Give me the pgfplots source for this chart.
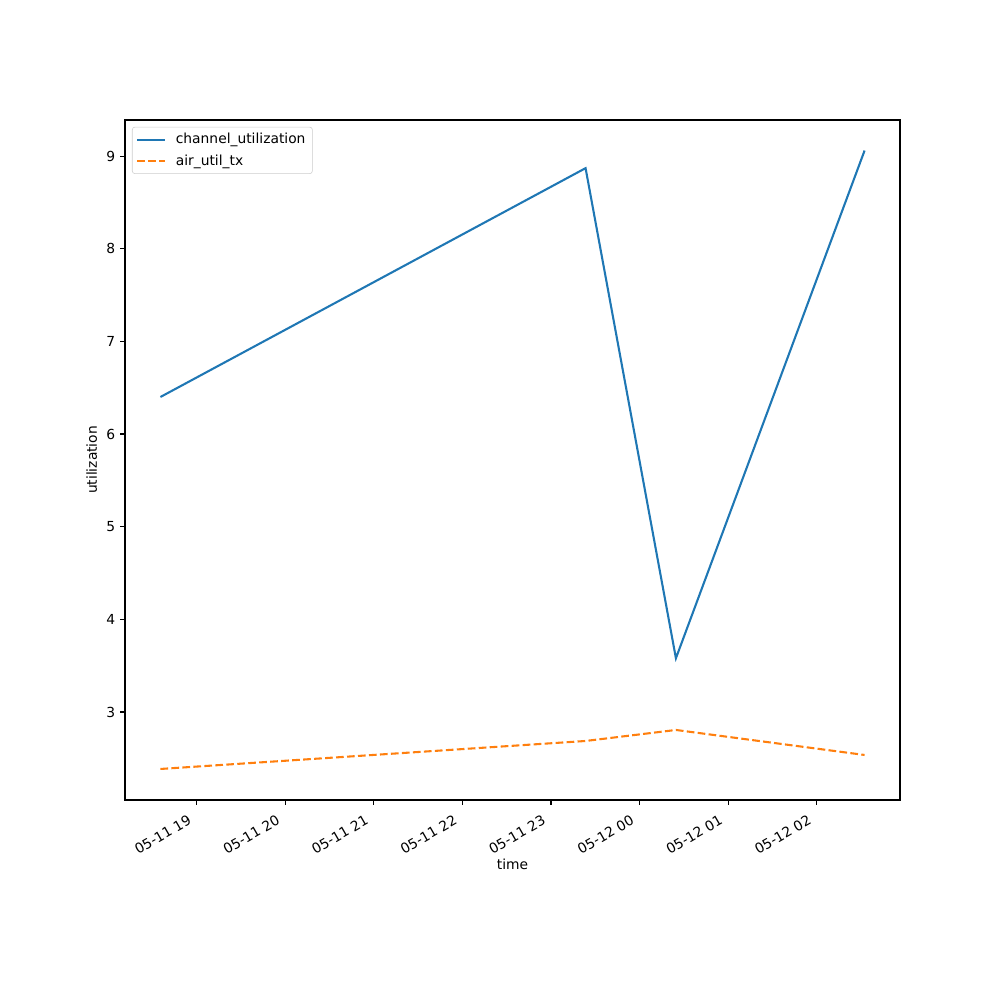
\documentclass[border=0pt]{standalone}
\usepackage{pgfplots}
\pgfplotsset{compat=1.18}
\usepackage{fontspec}
\setmainfont{DejaVu Sans}
\definecolor{c0}{HTML}{1F77B4}
\definecolor{c1}{HTML}{FF7F0E}
\begin{document}
\begin{tikzpicture}
\path[use as bounding box] (0,0) rectangle (10in,10in);
\begin{axis}[
  at={(1.25in,2.0in)}, anchor=south west,
  scale only axis, width=7.75in, height=6.8in,
  xmin=18.19, xmax=26.94, ymin=2.05, ymax=9.39,
  xtick={19,20,21,22,23,24,25,26},
  xticklabels={05-11 19,05-11 20,05-11 21,05-11 22,05-11 23,05-12 00,05-12 01,05-12 02},
  ytick={3,4,5,6,7,8,9},
  tick align=outside, major tick length=3.5pt, tick pos=left,
  tick style={black, line width=0.8pt},
  axis line style={line width=0.8pt},
  xticklabel style={rotate=30, anchor=north east, xshift=-6pt, yshift=1pt},
  /pgf/number format/assume math mode=true,
  xlabel={time}, ylabel={utilization},
  xlabel style={yshift=5pt},
  legend style={at={(0.009,0.99)}, anchor=north west, draw=black!20, rounded corners=2pt,
    fill=white, fill opacity=0.8, text opacity=1, font=\fontsize{10}{12}\selectfont,
    row sep=2.5pt, inner xsep=3pt, inner ysep=2.5pt},
  legend cell align=left,
  legend image code/.code={\draw[#1] (0pt,0pt) -- (20pt,0pt); \path (25pt,0pt);},
]
\addplot[c0, line width=1.5pt] coordinates {(18.59,6.40) (23.39,8.87) (24.41,3.58) (26.54,9.06)};
\addlegendentry{channel\_utilization}
\addplot[c1, line width=1.5pt, dash pattern=on 5.55pt off 2.4pt] coordinates {(18.59,2.385) (23.39,2.687) (24.41,2.806) (26.54,2.536)};
\addlegendentry{air\_util\_tx}
\end{axis}
\end{tikzpicture}
\end{document}
